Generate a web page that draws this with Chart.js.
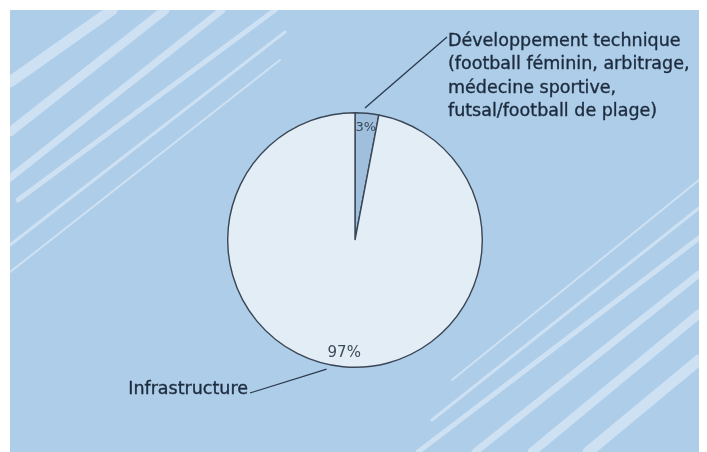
<!DOCTYPE html>
<html>
<head>
<meta charset="utf-8">
<script src="https://cdn.jsdelivr.net/npm/chart.js@4.4.1/dist/chart.umd.min.js"></script>
<style>
  html, body { margin: 0; padding: 0; background: #ffffff; }
  #wrap { width: 707px; height: 452px; position: relative; }
</style>
</head>
<body>
<div id="wrap"><canvas id="pieChart"></canvas></div>
<script>
// data
const categories = [
    ['Développement technique', '(football féminin, arbitrage,', 'médecine sportive,', 'futsal/football de plage)'],
    ['Infrastructure']
];
const shares = [3, 97];
const percentLabels = ['3%', '97%'];

// styling
const sliceColors = ['#a0bfdd', '#e3edf5'];
const panelColor = '#aecde9';
const textColor = '#1c2b3d';
const pctColor = '#3b4a5a';
const fontFamily = '"DejaVu Sans", "Noto Sans", sans-serif';
const pctSizes = [13, 15];

// where the callout text sits, and where along the slice the leader starts
const callouts = [
    { x: 448, y: 41, lineH: 23.5, align: 'left', anchorFrac: 0.4, textGap: 1 },
    { x: 248, y: 389, lineH: 23, align: 'right', anchorFrac: 0.52, textGap: 2 }
];

// light diagonal streaks on the background
const streaks = [
    [10, 82, 112, 10, 11], [10, 132, 165, 10, 9], [10, 178, 222, 10, 7],
    [18, 200, 275, 10, 5], [10, 245, 285, 32, 3], [10, 272, 280, 60, 2],
    [452, 380, 699, 180, 2], [432, 420, 699, 208, 3], [418, 452, 699, 238, 5],
    [475, 452, 699, 274, 7], [532, 452, 699, 314, 9], [588, 452, 699, 360, 11]
];

const backdrop = {
    id: 'backdrop',
    beforeDraw(chart) {
        const ctx = chart.ctx;
        ctx.save();
        ctx.fillStyle = '#ffffff';
        ctx.fillRect(0, 0, chart.width, chart.height);
        ctx.fillStyle = panelColor;
        ctx.fillRect(10, 10, 689, 442);
        ctx.beginPath();
        ctx.rect(10, 10, 689, 442);
        ctx.clip();
        ctx.strokeStyle = 'rgba(220, 233, 247, 0.7)';
        ctx.lineCap = 'round';
        streaks.forEach(s => {
            ctx.lineWidth = s[4];
            ctx.beginPath();
            ctx.moveTo(s[0], s[1]);
            ctx.lineTo(s[2], s[3]);
            ctx.stroke();
        });
        ctx.restore();
    }
};

const sliceLabels = {
    id: 'sliceLabels',
    afterDraw(chart) {
        const ctx = chart.ctx;
        const arcs = chart.getDatasetMeta(0).data;
        ctx.save();
        arcs.forEach((arc, i) => {
            const cx = arc.x, cy = arc.y, r = arc.outerRadius;
            // percent label inside the slice
            const mid = (arc.startAngle + arc.endAngle) / 2;
            ctx.fillStyle = pctColor;
            ctx.font = pctSizes[i] + 'px ' + fontFamily;
            ctx.textAlign = 'center';
            ctx.textBaseline = 'middle';
            ctx.fillText(percentLabels[i], cx + Math.cos(mid) * r * 0.9, cy + Math.sin(mid) * r * 0.89);

            // leader line
            const c = callouts[i];
            const a = arc.startAngle + (arc.endAngle - arc.startAngle) * c.anchorFrac;
            const sx = cx + Math.cos(a) * (r + 5);
            const sy = cy + Math.sin(a) * (r + 5);
            const ex = c.align === 'left' ? c.x - c.textGap : c.x + c.textGap;
            const ey = c.align === 'left' ? c.y - 4 : c.y + 4;
            ctx.strokeStyle = '#2a3a4e';
            ctx.lineWidth = 1.3;
            ctx.beginPath();
            ctx.moveTo(sx, sy);
            ctx.lineTo(ex, ey);
            ctx.stroke();

            // callout text, slightly emboldened
            ctx.fillStyle = textColor;
            ctx.strokeStyle = textColor;
            ctx.lineWidth = 0.35;
            ctx.font = '17.5px ' + fontFamily;
            ctx.textAlign = c.align;
            categories[i].forEach((line, k) => {
                ctx.fillText(line, c.x, c.y + k * c.lineH);
                ctx.strokeText(line, c.x, c.y + k * c.lineH);
            });
        });
        ctx.restore();
    }
};

new Chart(document.getElementById('pieChart'), {
    type: 'pie',
    data: {
        labels: categories.map(c => c.join(' ')),
        datasets: [{
            data: shares,
            backgroundColor: sliceColors,
            borderColor: '#3a4656',
            borderWidth: 1.4
        }]
    },
    options: {
        responsive: true,
        maintainAspectRatio: false,
        animation: false,
        layout: { padding: { top: 112, bottom: 84, left: 100, right: 97 } },
        plugins: {
            legend: { display: false },
            tooltip: { enabled: false }
        }
    },
    plugins: [backdrop, sliceLabels]
});
</script>
</body>
</html>
